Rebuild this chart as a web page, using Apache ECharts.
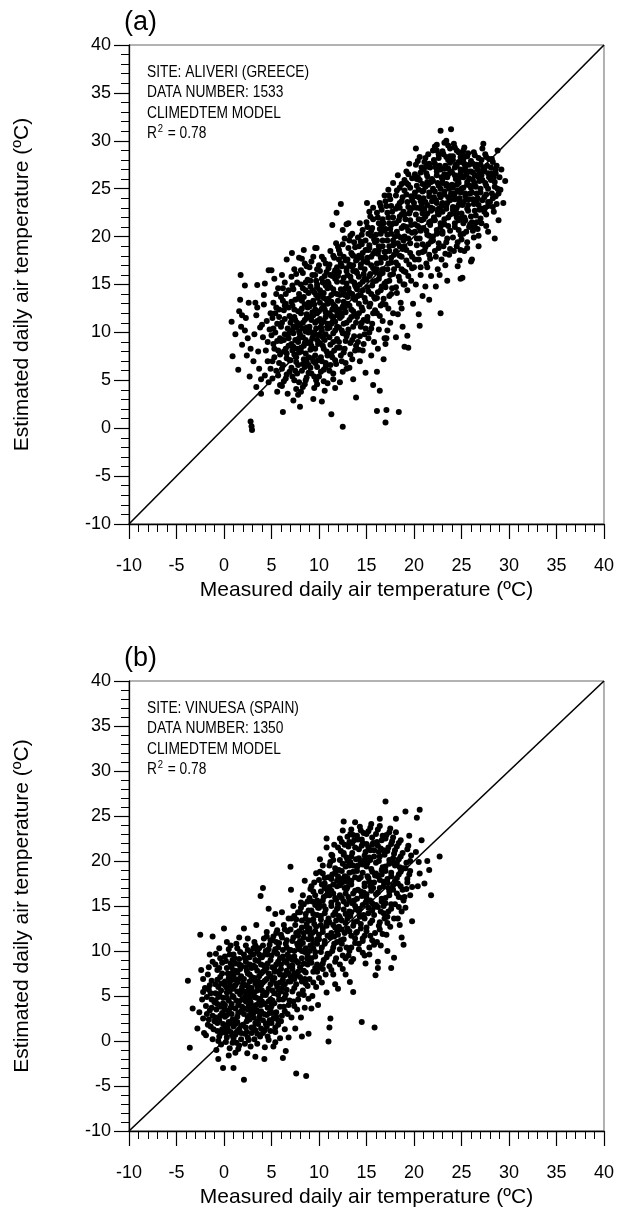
<!DOCTYPE html>
<html>
<head>
<meta charset="utf-8">
<script src="https://cdn.jsdelivr.net/npm/echarts@6/dist/echarts.min.js"></script>
<style>
  html, body { margin: 0; padding: 0; background: #fff; }
  #chart { width: 617px; height: 1209px; }
</style>
</head>
<body>
<div id="chart"></div>
<script>
// panel (a): ALIVERI (GREECE), measured vs estimated (ºC)
const aliveriPts = [
  [0.8,11.1],[0.9,7.5],[1.2,9.8],[1.5,6.1],[1.7,13.4],[1.75,16.0],[1.8,10.6],[1.9,8.7],[1.6,12.2],[1.9,11.8],
  [2.2,14.9],[2.4,7.6],[2.6,13.1],[2.8,0.7],[2.9,0.2],[2.95,-0.2],[2.3,11.5],[2.5,9.4],[2.7,5.4],[2.8,8.3],[2.2,10.2],
  [3.3,13.1],[3.5,14.95],[3.2,9.8],[3.4,11.8],[3.6,8.0],[3.7,6.2],[3.1,7.0],[3.8,10.5],[3.5,12.6],[3.9,5.1],[3.4,4.3],[3.9,3.6],
  [4.3,15.1],[4.7,16.5],[4.2,12.9],[4.5,11.2],[4.1,9.5],[4.8,10.3],[4.4,8.1],[4.6,7.0],[4.9,6.2],[4.3,5.5],[4.7,4.8],[4.2,13.9],[4.9,12.0],[4.6,9.0],[4.0,10.8],
  [5.3,15.6],[5.0,16.5],[5.5,14.0],[5.2,13.1],[5.8,12.4],[5.1,11.5],[5.6,10.9],[5.4,10.0],[5.9,9.4],[5.2,8.8],[5.7,8.1],[5.3,7.4],[5.8,6.8],[5.5,6.0],[5.1,5.2],[5.9,4.5],[5.6,3.8],[5.4,12.0],[5.0,9.7],[5.7,14.6],
  [5.5,12.6],[5.8,11.6],[5.2,10.4],[5.6,9.1],[5.3,8.3],[5.9,7.7],[5.1,7.0],[5.7,5.5],
  [6.1,16.0],[6.6,17.6],[6.2,1.7],[6.4,15.2],[6.8,14.4],[6.0,13.7],[6.5,13.0],[6.3,12.3],[6.9,11.7],[6.1,11.0],[6.7,10.4],[6.4,9.8],[6.0,9.1],[6.8,8.6],[6.3,8.0],[6.6,7.3],[6.2,6.6],[6.9,5.9],[6.5,5.2],[6.1,4.4],[6.7,3.6],[6.4,12.8],[6.9,10.0],[6.2,14.6],[6.6,7.8],[6.8,9.4],
  [6.5,14.0],[6.2,13.3],[6.8,12.6],[6.4,11.4],[6.0,10.6],[6.7,9.7],[6.3,9.2],[6.5,8.3],[6.9,7.1],[6.1,6.2],[6.6,5.6],[6.3,4.9],
  [7.15,18.3],[7.9,17.8],[7.4,16.6],[7.1,15.8],[7.7,15.2],[7.3,14.5],[7.9,14.0],[7.5,13.4],[7.2,12.8],[7.8,12.2],[7.4,11.6],[7.0,11.0],[7.6,10.5],[7.3,9.9],[7.9,9.4],[7.1,8.8],[7.7,8.3],[7.4,7.7],[7.0,7.1],[7.8,6.6],[7.5,6.0],[7.2,5.4],[7.9,4.8],[7.6,4.1],[7.3,2.9],[7.5,11.3],[7.8,9.0],[7.2,10.2],[7.6,7.4],[7.1,13.2],[7.9,7.9],[7.3,8.5],
  [7.6,16.1],[7.2,14.9],[7.8,13.5],[7.4,12.4],[7.1,11.5],[7.7,11.0],[7.3,10.6],[7.9,10.1],[7.5,9.2],[7.2,8.1],[7.6,6.9],[7.1,6.3],[7.7,5.7],[7.4,5.0],[7.8,3.5],
  [8.4,18.6],[8.2,17.7],[8.0,2.25],[8.7,16.9],[8.3,16.2],[8.8,15.5],[8.1,15.0],[8.6,14.4],[8.4,13.7],[8.9,13.1],[8.2,12.5],[8.7,11.9],[8.5,11.3],[8.0,10.7],[8.6,10.1],[8.3,9.5],[8.8,8.9],[8.1,8.4],[8.6,7.8],[8.4,7.2],[8.9,6.6],[8.2,6.0],[8.7,5.3],[8.5,4.6],[8.1,3.8],[8.8,12.6],[8.3,11.0],[8.6,9.2],[8.0,9.8],[8.9,7.4],[8.4,8.6],[8.2,13.3],[8.7,10.5],[8.5,6.4],
  [8.5,17.2],[8.1,16.5],[8.6,15.2],[8.3,14.6],[8.9,14.1],[8.0,13.6],[8.5,12.9],[8.1,12.0],[8.7,11.5],[8.3,10.4],[8.9,10.0],[8.5,8.9],[8.1,8.0],[8.7,7.0],[8.3,6.7],[8.9,5.8],[8.6,5.0],[8.3,4.3],
  [9.75,18.8],[9.6,18.8],[9.4,3.05],[9.2,17.4],[9.8,16.6],[9.3,16.0],[9.7,15.4],[9.1,14.8],[9.5,14.2],[9.9,13.6],[9.2,13.0],[9.6,12.4],[9.4,11.8],[9.8,11.2],[9.0,10.6],[9.5,10.0],[9.3,9.4],[9.9,8.8],[9.1,8.2],[9.6,7.6],[9.4,7.0],[9.8,6.4],[9.2,5.7],[9.7,5.0],[9.5,4.2],[9.3,12.1],[9.7,10.4],[9.1,9.0],[9.9,9.7],[9.4,13.3],[9.6,6.8],[9.2,11.3],[9.8,14.7],
  [9.4,17.9],[9.0,16.8],[9.6,16.0],[9.1,15.4],[9.8,15.0],[9.3,14.4],[9.7,13.9],[9.0,12.7],[9.5,12.9],[9.8,12.0],[9.2,11.7],[9.6,11.0],[9.0,10.2],[9.4,9.7],[9.8,9.2],[9.2,8.6],[9.6,8.3],[9.3,7.3],[9.9,7.1],[9.1,6.3],[9.5,5.4],[9.8,4.6],
  [10.3,17.9],[10.7,17.2],[10.1,16.4],[10.6,15.9],[10.4,15.2],[10.9,14.6],[10.2,14.0],[10.8,13.4],[10.5,12.8],[10.0,12.2],[10.7,11.6],[10.3,11.0],[10.9,10.4],[10.1,9.8],[10.6,9.2],[10.4,8.6],[10.8,8.0],[10.2,7.4],[10.7,6.8],[10.5,6.1],[10.0,5.4],[10.9,4.7],[10.6,3.9],[10.3,2.8],[10.5,13.6],[10.8,11.9],[10.2,10.6],[10.6,12.4],[10.4,9.5],[10.9,15.3],[10.1,13.1],
  [10.5,17.6],[10.0,17.0],[10.8,16.3],[10.3,15.6],[10.7,14.9],[10.1,14.4],[10.5,14.1],[10.9,13.0],[10.3,12.5],[10.7,12.1],[10.1,11.4],[10.5,11.2],[10.9,10.9],[10.3,10.2],[10.7,9.8],[10.1,8.9],[10.5,8.3],[10.9,7.6],[10.3,7.0],[10.7,6.4],[10.2,5.9],[10.5,4.9],
  [11.3,1.45],[11.85,22.5],[11.4,21.2],[11.8,19.3],[11.2,18.5],[11.6,17.8],[11.1,17.1],[11.7,16.5],[11.4,15.9],[11.9,15.3],[11.2,14.7],[11.6,14.1],[11.0,13.5],[11.5,12.9],[11.8,12.3],[11.3,11.7],[11.7,11.1],[11.1,10.5],[11.5,9.9],[11.9,9.3],[11.2,8.7],[11.6,8.1],[11.4,7.4],[11.8,6.7],[11.1,6.0],[11.5,5.1],[11.7,4.2],[11.3,13.9],[11.6,16.2],[11.9,10.6],[11.4,12.4],
  [11.5,18.0],[11.0,16.7],[11.9,16.8],[11.2,16.0],[11.7,15.6],[11.0,15.1],[11.5,14.5],[11.9,14.0],[11.3,13.2],[11.7,12.7],[11.1,12.0],[11.5,11.4],[11.9,11.8],[11.3,10.9],[11.7,10.2],[11.1,9.5],[11.5,9.0],[11.9,8.4],[11.3,7.8],[11.7,7.1],[11.2,6.6],[11.5,5.7],
  [12.3,23.4],[12.9,21.3],[12.5,20.7],[12.0,18.95],[12.5,0.15],[12.7,19.8],[12.2,18.2],[12.8,17.5],[12.4,16.9],[12.1,16.3],[12.6,15.7],[12.9,15.1],[12.3,14.5],[12.7,13.9],[12.0,13.3],[12.5,12.7],[12.8,12.1],[12.2,11.5],[12.6,10.9],[12.4,10.2],[12.9,9.6],[12.1,9.0],[12.7,8.3],[12.3,7.6],[12.8,6.8],[12.5,5.9],[12.2,4.8],[12.6,14.2],[12.9,16.4],[12.4,12.0],[12.1,17.6],
  [12.5,19.2],[12.1,18.6],[12.6,17.9],[12.3,17.2],[12.9,16.7],[12.0,15.9],[12.5,15.3],[12.8,14.6],[12.2,13.9],[12.6,13.2],[12.1,12.4],[12.7,12.5],[12.4,11.7],[12.9,11.0],[12.1,10.5],[12.5,9.9],[12.8,9.1],[12.2,8.4],[12.6,7.9],[12.4,7.0],[12.9,6.2],
  [13.1,21.4],[13.9,3.2],[13.5,20.3],[13.2,19.6],[13.8,18.9],[13.4,18.3],[13.0,17.6],[13.6,17.0],[13.9,16.4],[13.3,15.8],[13.7,15.2],[13.1,14.6],[13.5,14.0],[13.8,13.4],[13.2,12.8],[13.6,12.2],[13.4,11.6],[13.9,11.0],[13.1,10.3],[13.7,9.6],[13.3,8.9],[13.8,8.1],[13.5,7.2],[13.2,6.3],[13.6,5.1],[13.4,16.9],[13.9,14.7],[13.0,13.7],[13.6,18.0],
  [13.3,20.1],[13.7,19.4],[13.1,18.8],[13.5,18.1],[13.9,17.5],[13.2,17.1],[13.6,16.4],[13.0,16.0],[13.4,15.4],[13.8,14.9],[13.2,14.2],[13.6,13.6],[13.0,13.0],[13.4,12.4],[13.8,11.9],[13.2,11.3],[13.6,10.6],[13.0,9.9],[13.5,9.2],[13.9,8.6],[13.3,7.7],
  [14.3,21.4],[14.6,20.7],[14.1,19.9],[14.5,19.2],[14.9,18.6],[14.2,18.0],[14.7,17.4],[14.4,16.8],[14.0,16.2],[14.8,15.6],[14.3,15.0],[14.6,14.4],[14.1,13.8],[14.9,13.2],[14.5,12.6],[14.2,12.0],[14.7,11.3],[14.4,10.6],[14.8,9.8],[14.1,9.0],[14.6,8.1],[14.3,7.0],[14.9,5.8],[14.5,17.8],[14.0,14.8],[14.7,16.1],[14.4,19.5],
  [14.5,20.2],[14.9,19.6],[14.2,19.0],[14.6,18.3],[14.0,17.6],[14.4,17.1],[14.8,16.6],[14.2,15.8],[14.6,15.3],[14.0,14.5],[14.4,13.9],[14.8,13.6],[14.2,13.0],[14.6,12.3],[14.0,11.6],[14.5,11.0],[14.9,10.4],[14.3,9.6],[14.7,8.8],[14.2,8.2],
  [15.05,23.5],[15.7,23.0],[15.4,22.1],[15.0,21.5],[15.6,20.9],[15.2,20.3],[15.8,19.7],[15.3,19.1],[15.9,18.5],[15.5,17.9],[15.1,17.3],[15.7,16.7],[15.4,16.1],[15.0,15.5],[15.6,14.9],[15.2,14.3],[15.8,13.7],[15.4,13.0],[15.9,12.3],[15.1,11.6],[15.6,10.9],[15.3,10.0],[15.8,9.0],[15.7,4.5],[15.5,7.6],[15.2,18.6],[15.9,16.3],[15.5,20.6],
  [15.3,22.6],[15.7,21.8],[15.1,21.0],[15.5,20.1],[15.9,19.4],[15.3,18.8],[15.7,18.2],[15.1,17.8],[15.5,17.0],[15.9,16.6],[15.3,15.9],[15.7,15.3],[15.1,14.7],[15.5,14.0],[15.9,13.5],[15.3,12.7],[15.7,12.0],[15.1,11.2],[15.5,10.4],[15.2,9.4],
  [16.4,23.5],[16.1,5.9],[16.4,3.9],[16.1,1.8],[16.8,7.2],[16.2,8.3],[16.9,24.3],[16.6,22.8],[16.2,22.0],[16.8,21.4],[16.4,20.8],[16.0,20.2],[16.7,19.6],[16.3,19.0],[16.9,18.4],[16.5,17.8],[16.1,17.2],[16.7,16.6],[16.4,16.0],[16.0,15.4],[16.6,14.8],[16.2,14.2],[16.8,13.5],[16.5,12.8],[16.1,12.0],[16.7,11.2],[16.3,10.3],[16.9,9.4],[16.6,21.0],[16.2,18.2],
  [16.5,23.2],[16.1,22.5],[16.7,21.8],[16.3,21.4],[16.9,20.6],[16.5,20.3],[16.1,19.6],[16.7,19.0],[16.3,18.6],[16.9,17.8],[16.5,17.3],[16.1,16.6],[16.7,16.2],[16.3,15.6],[16.9,15.1],[16.5,14.4],[16.1,13.6],[16.7,13.0],[16.4,11.7],
  [17.3,24.9],[17.1,1.9],[17.0,0.6],[17.0,8.8],[17.1,9.4],[17.8,25.6],[17.5,23.9],[17.1,23.2],[17.7,22.6],[17.3,22.0],[17.9,21.4],[17.5,20.8],[17.2,20.2],[17.8,19.6],[17.4,19.0],[17.0,18.4],[17.6,17.8],[17.3,17.2],[17.9,16.6],[17.5,16.0],[17.1,15.3],[17.7,14.6],[17.4,13.8],[17.0,12.9],[17.8,12.0],[17.5,11.0],[17.2,10.2],[17.6,21.2],[17.9,18.1],
  [17.4,24.3],[17.0,23.7],[17.6,23.2],[17.2,22.5],[17.8,22.0],[17.4,21.4],[17.0,20.8],[17.6,20.3],[17.2,19.6],[17.8,19.1],[17.4,18.5],[17.0,17.8],[17.6,17.3],[17.2,16.6],[17.8,16.1],[17.4,15.4],[17.0,14.7],[17.6,14.0],[17.3,12.5],
  [18.4,1.7],[18.1,9.5],[18.3,26.4],[18.7,25.5],[18.2,24.8],[18.8,24.1],[18.5,23.5],[18.1,22.9],[18.7,22.3],[18.4,21.7],[18.9,21.1],[18.2,20.5],[18.6,19.9],[18.3,19.3],[18.8,18.7],[18.5,18.0],[18.1,17.3],[18.7,16.6],[18.4,15.8],[18.9,15.0],[18.2,14.1],[18.6,13.1],[18.3,11.9],[18.8,10.6],[18.5,23.0],[18.0,20.0],
  [18.5,25.1],[18.1,24.3],[18.7,23.7],[18.3,23.2],[18.9,22.6],[18.5,22.1],[18.1,21.4],[18.7,20.9],[18.3,20.1],[18.9,19.6],[18.5,19.0],[18.1,18.5],[18.7,17.9],[18.3,17.0],[18.9,16.4],[18.5,15.4],[18.1,14.7],[18.7,12.5],
  [19.0,8.5],[19.4,8.4],[19.3,9.65],[19.9,13.0],[19.5,27.6],[19.2,26.8],[19.8,26.1],[19.4,25.4],[19.0,24.8],[19.7,24.2],[19.3,23.6],[19.9,23.0],[19.5,22.4],[19.1,21.8],[19.7,21.2],[19.4,20.6],[19.0,20.0],[19.6,19.3],[19.2,18.6],[19.8,17.9],[19.5,17.1],[19.1,16.3],[19.7,15.4],[19.3,14.4],[19.6,22.7],[19.2,25.6],
  [19.4,26.5],[19.0,25.9],[19.6,25.1],[19.2,24.4],[19.8,23.8],[19.4,23.1],[19.0,22.3],[19.6,21.7],[19.2,21.0],[19.8,20.4],[19.4,19.8],[19.0,19.0],[19.6,18.3],[19.2,17.5],[19.8,16.7],[19.4,15.9],[19.0,15.0],
  [20.2,29.2],[20.6,10.7],[20.5,11.9],[20.9,13.8],[20.4,27.9],[20.8,27.2],[20.1,26.5],[20.6,25.9],[20.3,25.3],[20.9,24.7],[20.5,24.1],[20.0,23.5],[20.7,22.9],[20.2,22.3],[20.8,21.7],[20.4,21.1],[20.1,20.5],[20.6,19.8],[20.3,19.1],[20.9,18.4],[20.5,17.6],[20.0,16.8],[20.7,16.0],[20.2,15.0],[20.8,23.3],[20.4,26.2],[20.6,20.9],[20.1,24.6],
  [20.6,28.3],[20.2,27.5],[20.7,26.7],[20.3,26.0],[20.9,25.5],[20.5,24.9],[20.1,24.2],[20.7,23.7],[20.3,23.0],[20.9,22.4],[20.5,21.8],[20.1,21.3],[20.7,20.6],[20.3,19.8],[20.9,19.2],[20.5,18.3],[20.1,17.6],[20.7,16.8],
  [21.5,28.6],[21.1,27.8],[21.7,27.2],[21.3,26.6],[21.9,26.0],[21.5,25.4],[21.0,24.8],[21.6,24.2],[21.2,23.6],[21.8,23.0],[21.4,22.4],[21.0,21.8],[21.7,21.2],[21.3,20.6],[21.9,19.9],[21.5,19.2],[21.1,18.5],[21.7,17.7],[21.4,16.8],[21.8,15.9],[21.2,14.8],[21.6,13.4],[21.4,25.7],[21.9,23.7],[21.1,22.9],[21.6,20.1],[21.3,27.3],[21.8,21.6],
  [21.2,28.2],[21.6,27.6],[21.0,27.0],[21.4,26.3],[21.8,25.7],[21.2,25.2],[21.6,24.6],[21.0,24.0],[21.4,23.3],[21.8,22.7],[21.2,22.1],[21.6,21.5],[21.0,20.9],[21.4,20.2],[21.8,19.5],[21.2,18.9],[21.6,18.1],[21.3,17.2],
  [22.8,31.05],[22.3,14.8],[22.8,12.0],[22.2,29.4],[22.6,28.6],[22.1,28.0],[22.7,27.4],[22.4,26.8],[22.9,26.2],[22.5,25.6],[22.0,25.0],[22.7,24.4],[22.3,23.8],[22.9,23.2],[22.5,22.6],[22.1,22.0],[22.8,21.4],[22.4,20.7],[22.0,20.0],[22.6,19.3],[22.2,18.5],[22.9,17.6],[22.5,16.6],[22.3,27.2],[22.8,25.0],[22.1,24.1],[22.6,22.9],[22.4,29.0],[22.9,20.4],
  [22.4,29.6],[22.0,29.0],[22.6,28.2],[22.2,27.6],[22.8,27.0],[22.4,26.4],[22.0,25.8],[22.6,25.3],[22.2,24.7],[22.8,24.1],[22.4,23.5],[22.0,22.9],[22.6,22.3],[22.2,21.7],[22.8,21.0],[22.4,20.3],[22.0,19.6],[22.6,18.8],[22.3,17.9],[22.7,16.0],
  [23.9,31.2],[23.5,15.4],[23.4,30.0],[23.8,29.2],[23.1,28.6],[23.6,28.0],[23.3,27.4],[23.9,26.8],[23.5,26.2],[23.0,25.6],[23.7,25.0],[23.2,24.4],[23.8,23.8],[23.4,23.2],[23.0,22.6],[23.6,22.0],[23.2,21.3],[23.8,20.6],[23.5,19.8],[23.1,19.0],[23.7,18.1],[23.3,17.0],[23.6,27.1],[23.9,24.5],[23.2,26.5],[23.5,23.5],[23.8,28.4],[23.0,20.3],[23.4,25.3],
  [23.2,29.8],[23.6,29.5],[23.0,28.9],[23.4,28.3],[23.8,27.7],[23.2,27.1],[23.6,26.5],[23.0,26.0],[23.4,25.5],[23.8,25.3],[23.2,24.7],[23.6,24.1],[23.0,23.5],[23.4,22.9],[23.8,22.3],[23.2,21.8],[23.6,21.1],[23.0,20.5],[23.4,19.4],[23.8,18.7],[23.3,18.2],
  [24.2,29.7],[24.6,16.9],[24.9,15.6],[24.5,29.0],[24.1,28.4],[24.7,27.8],[24.3,27.2],[24.9,26.6],[24.4,26.0],[24.0,25.4],[24.6,24.8],[24.2,24.2],[24.8,23.6],[24.5,23.0],[24.1,22.4],[24.7,21.7],[24.3,21.0],[24.9,20.2],[24.6,19.4],[24.2,18.5],[24.8,17.5],[24.4,27.5],[24.0,26.7],[24.7,25.6],[24.3,24.5],[24.9,28.3],[24.5,22.0],[24.1,23.1],[24.6,26.3],[24.8,24.0],
  [24.3,29.3],[24.7,28.8],[24.1,28.0],[24.5,27.4],[24.9,27.0],[24.3,26.4],[24.7,26.0],[24.1,25.1],[24.5,25.4],[24.9,24.6],[24.3,23.9],[24.7,23.3],[24.1,22.8],[24.5,22.5],[24.9,21.9],[24.3,21.4],[24.7,20.7],[24.1,19.9],[24.5,19.0],[24.9,18.6],
  [25.1,15.7],[25.3,29.3],[25.7,28.7],[25.2,28.1],[25.8,27.5],[25.4,26.9],[25.0,26.3],[25.6,25.7],[25.2,25.1],[25.9,24.5],[25.5,23.9],[25.1,23.3],[25.7,22.7],[25.3,22.0],[25.9,21.3],[25.5,20.5],[25.0,19.7],[25.6,18.8],[25.3,27.6],[25.8,26.1],[25.4,24.2],[25.1,28.6],[25.7,23.3],[25.5,26.5],[25.2,21.4],[25.9,25.3],[26.0,17.4],
  [25.2,29.0],[25.6,28.4],[25.0,27.8],[25.4,27.3],[25.8,26.8],[25.2,26.2],[25.6,25.4],[25.0,25.0],[25.4,24.5],[25.8,23.9],[25.2,23.6],[25.6,22.9],[25.0,22.4],[25.4,21.7],[25.8,21.0],[25.2,20.3],[25.6,19.4],[25.3,18.5],
  [26.1,17.6],[26.3,28.8],[26.8,28.2],[26.2,27.6],[26.7,27.0],[26.4,26.4],[26.9,25.8],[26.5,25.2],[26.1,24.6],[26.7,24.0],[26.3,23.4],[26.9,22.8],[26.5,22.2],[26.1,21.5],[26.7,20.8],[26.3,19.9],[26.8,19.0],[26.5,27.3],[26.2,25.9],[26.6,23.7],[26.9,26.6],[26.4,21.0],[26.0,26.8],
  [26.4,28.5],[26.0,27.9],[26.6,27.5],[26.2,26.7],[26.8,26.2],[26.4,25.6],[26.0,25.1],[26.6,24.5],[26.2,23.9],[26.8,23.3],[26.4,22.7],[26.0,22.1],[26.6,21.5],[26.2,20.6],[26.8,20.1],
  [27.3,29.7],[27.8,20.5],[27.5,28.6],[27.1,28.0],[27.7,27.4],[27.3,26.8],[27.9,26.2],[27.5,25.6],[27.0,25.0],[27.6,24.4],[27.2,23.8],[27.8,23.2],[27.4,22.6],[27.0,21.9],[27.6,21.1],[27.3,27.2],[27.8,25.0],[27.1,26.4],[27.5,23.0],[27.9,28.1],
  [27.2,29.2],[27.6,28.3],[27.0,27.5],[27.4,27.0],[27.8,26.6],[27.2,25.9],[27.6,25.3],[27.0,24.6],[27.4,24.1],[27.8,23.6],[27.2,22.9],[27.6,22.3],[27.1,21.4],
  [28.8,29.0],[28.7,27.4],[28.9,24.5],[28.4,22.6],[28.9,21.7],[28.5,19.8],[28.2,28.1],[28.6,26.6],[28.1,25.9],[28.5,25.2],[28.3,24.0],[28.7,23.4],[28.1,27.2],[28.4,26.2],[28.0,23.6],
  [28.3,27.8],[28.6,27.0],[28.2,26.6],[28.5,25.7],[28.8,25.0],[28.2,24.5],[28.6,24.2],[28.3,23.1],
  [29.6,25.8],[29.2,27.0],[29.1,24.9],[29.4,23.5],[29.0,26.2]
];

// panel (b): VINUESA (SPAIN)
const vinuesaPts = [
  [-3.8,6.7],[-3.6,-0.75],[-3.3,3.6],
  [-2.5,11.8],[-2.2,6.9],[-2.2,5.45],[-2.3,4.6],[-2.2,2.5],[-2.6,3.2],[-2.8,1.4],[-2.4,7.9],[-2.1,0.9],
  [-2.0,5.9],[-1.6,5.7],[-1.3,4.6],[-1.9,3.9],[-1.5,3.4],[-1.2,2.8],[-1.7,1.8],[-1.4,1.6],[-1.0,2.2],[-1.3,6.7],[-1.6,8.2],
  [-1.2,11.6],[-1.2,8.8],[-1.9,0.65],[-1.5,6.2],[-1.8,4.9],[-1.3,3.7],[-1.6,2.4],[-1.1,1.3],[-1.4,5.3],[-1.7,7.4],[-1.2,0.2],[-1.5,9.6],[-1.0,4.3],[-1.8,3.0],
  [-0.85,9.7],[-0.6,-2.0],[-0.1,-3.0],[-0.5,10.3],[-0.2,8.7],[-0.7,7.9],[-0.4,7.1],[-0.9,6.3],[-0.3,5.6],[-0.6,4.9],[-0.1,4.2],[-0.8,3.5],[-0.4,2.8],[-0.7,2.0],[-0.2,1.3],[-0.5,0.5],[-0.3,-0.4],[-0.8,-1.0],[-0.6,6.0],[-0.2,3.1],[-0.9,4.5],[-0.4,9.2],[0.0,12.5],
  [-0.9,8.5],[-0.5,8.1],[-0.2,7.5],[-0.7,6.8],[-0.3,6.4],[-0.9,5.3],[-0.5,5.2],[-0.1,4.8],[-0.7,4.1],[-0.3,3.8],[-0.9,2.6],[-0.5,2.3],[-0.1,1.9],[-0.7,1.1],[-0.3,0.9],[-0.6,0.0],
  [0.7,10.6],[1.0,-3.0],[0.3,11.0],[0.6,9.6],[0.2,8.9],[0.8,8.2],[0.4,7.5],[0.9,6.8],[0.1,6.2],[0.6,5.5],[0.3,4.8],[0.8,4.1],[0.5,3.4],[0.1,2.7],[0.7,2.0],[0.4,1.3],[0.9,0.6],[0.2,-0.1],[0.6,-0.8],[0.5,-1.6],[0.3,5.9],[0.8,3.0],[0.1,4.0],[0.7,7.2],[0.4,1.8],[0.9,9.0],[0.2,0.9],[0.6,6.5],
  [0.5,10.2],[0.1,9.4],[0.7,8.6],[0.3,8.1],[0.9,7.6],[0.5,7.0],[0.1,6.6],[0.7,6.1],[0.3,5.4],[0.9,5.0],[0.5,4.5],[0.1,3.5],[0.7,3.7],[0.3,2.9],[0.9,2.4],[0.5,2.1],[0.1,1.4],[0.7,1.0],[0.3,0.4],[0.9,-0.2],
  [1.3,10.8],[1.7,9.9],[1.1,9.2],[1.6,8.5],[1.2,7.8],[1.8,7.2],[1.4,6.5],[1.0,5.8],[1.7,5.2],[1.3,4.5],[1.9,3.8],[1.5,3.1],[1.1,2.4],[1.8,1.7],[1.4,1.0],[1.0,0.3],[1.6,-0.5],[1.2,-1.3],[1.9,6.0],[1.5,4.0],[1.2,1.9],[1.7,8.0],[1.4,2.7],[1.8,0.2],[1.1,6.9],[1.6,11.5],[1.3,-0.2],[1.9,4.6],
  [1.4,10.3],[1.0,9.6],[1.6,9.1],[1.2,8.6],[1.8,8.4],[1.4,7.6],[1.0,7.2],[1.6,6.9],[1.2,6.2],[1.8,5.6],[1.4,5.5],[1.0,4.9],[1.6,4.4],[1.2,3.6],[1.8,3.3],[1.4,2.1],[1.0,1.6],[1.6,1.3],[1.2,0.7],[1.8,0.9],[1.5,-0.9],
  [2.1,12.5],[2.1,-4.3],[2.45,-1.35],[2.5,11.4],[2.3,10.6],[2.8,9.9],[2.2,9.2],[2.7,8.5],[2.4,7.8],[2.9,7.1],[2.0,6.4],[2.6,5.7],[2.3,5.0],[2.8,4.3],[2.1,3.6],[2.7,2.9],[2.4,2.2],[2.9,1.5],[2.2,0.8],[2.6,0.1],[2.8,-0.6],[2.5,6.1],[2.1,4.7],[2.9,3.3],[2.4,1.0],[2.7,7.4],[2.3,8.8],[2.6,4.0],[2.0,1.8],[2.8,5.4],[2.5,2.6],
  [2.5,10.1],[2.1,9.6],[2.7,9.3],[2.3,8.2],[2.9,8.1],[2.5,7.5],[2.1,6.9],[2.7,6.6],[2.3,6.2],[2.9,5.9],[2.5,5.2],[2.1,5.5],[2.7,4.8],[2.3,4.4],[2.9,3.9],[2.5,3.5],[2.1,3.0],[2.7,2.4],[2.3,1.5],[2.9,0.9],[2.5,0.4],[2.2,-0.3],
  [3.3,-1.75],[3.85,16.1],[3.4,12.9],[3.2,11.0],[3.7,10.3],[3.1,9.6],[3.6,8.9],[3.3,8.2],[3.9,7.5],[3.0,6.8],[3.5,6.1],[3.2,5.4],[3.8,4.7],[3.4,4.0],[3.9,3.3],[3.1,2.6],[3.6,1.9],[3.3,1.2],[3.8,0.5],[3.5,-0.3],[3.2,7.0],[3.7,5.8],[3.0,3.9],[3.5,2.2],[3.9,9.3],[3.4,4.8],[3.1,1.5],[3.6,6.6],[3.8,3.0],[3.3,10.6],
  [3.5,10.0],[3.1,10.3],[3.7,9.6],[3.3,9.0],[3.9,8.5],[3.5,7.8],[3.1,8.4],[3.7,7.2],[3.3,6.4],[3.9,6.2],[3.5,5.6],[3.1,4.9],[3.7,4.3],[3.3,3.5],[3.9,4.0],[3.5,3.3],[3.1,3.1],[3.7,2.6],[3.3,2.0],[3.9,1.4],[3.5,0.8],[3.2,0.2],
  [4.1,17.0],[4.7,14.7],[4.25,-2.0],[4.5,12.1],[4.2,11.4],[4.8,10.7],[4.4,10.0],[4.0,9.3],[4.6,8.6],[4.3,7.9],[4.9,7.2],[4.1,6.5],[4.7,5.8],[4.4,5.1],[4.0,4.4],[4.6,3.7],[4.2,3.0],[4.8,2.3],[4.5,1.6],[4.1,0.9],[4.7,0.1],[4.3,-0.7],[4.9,4.6],[4.5,6.9],[4.2,8.4],[4.8,3.1],[4.4,1.9],[4.6,9.6],[4.0,5.6],[4.9,11.2],
  [4.5,11.6],[4.1,10.6],[4.7,10.2],[4.3,9.6],[4.9,9.0],[4.5,8.1],[4.1,7.7],[4.7,7.5],[4.3,6.7],[4.9,6.3],[4.5,5.4],[4.1,5.1],[4.7,4.4],[4.3,4.1],[4.9,3.6],[4.5,2.9],[4.1,2.3],[4.7,2.0],[4.3,1.2],[4.9,1.1],[4.6,0.5],
  [5.4,14.1],[5.4,-0.15],[5.1,13.0],[5.6,12.3],[5.2,11.6],[5.8,10.9],[5.4,10.2],[5.0,9.5],[5.7,8.8],[5.3,8.1],[5.9,7.4],[5.1,6.7],[5.6,6.0],[5.3,5.3],[5.8,4.6],[5.0,3.9],[5.5,3.2],[5.2,2.5],[5.7,1.8],[5.4,1.0],[5.9,0.3],[5.3,7.7],[5.8,5.7],[5.1,4.5],[5.6,9.7],[5.0,2.0],[5.5,11.0],[5.2,-0.6],
  [5.5,12.0],[5.1,11.2],[5.7,10.4],[5.3,9.9],[5.9,9.2],[5.5,8.5],[5.1,8.2],[5.7,7.7],[5.3,7.0],[5.9,6.5],[5.5,6.4],[5.1,5.6],[5.7,5.1],[5.3,4.2],[5.9,3.8],[5.5,2.7],[5.1,3.1],[5.7,2.3],[5.4,1.5],
  [6.2,-1.9],[6.5,-1.1],[6.8,13.6],[6.3,12.9],[6.7,12.2],[6.1,11.5],[6.5,10.8],[6.9,10.1],[6.2,9.4],[6.6,8.7],[6.0,8.0],[6.4,7.3],[6.8,6.6],[6.1,5.9],[6.5,5.2],[6.9,4.5],[6.3,3.8],[6.7,3.0],[6.0,2.2],[6.4,1.3],[6.8,0.4],[6.6,11.2],[6.2,6.8],[6.9,8.3],[6.4,4.8],[6.1,14.3],[6.7,9.6],
  [6.4,12.4],[6.0,11.8],[6.6,10.4],[6.2,10.1],[6.8,9.2],[6.4,8.9],[6.0,8.5],[6.6,7.8],[6.2,7.3],[6.8,7.5],[6.4,6.3],[6.0,5.5],[6.6,5.7],[6.2,4.6],[6.8,4.0],[6.4,3.3],[6.1,2.8],
  [7.0,19.35],[7.05,16.8],[7.6,-3.6],[7.3,15.0],[7.8,14.3],[7.1,13.6],[7.5,12.9],[7.9,12.2],[7.3,11.5],[7.7,10.8],[7.0,10.1],[7.4,9.4],[7.8,8.7],[7.2,8.0],[7.6,7.3],[7.0,6.6],[7.4,5.9],[7.9,5.2],[7.3,4.4],[7.7,3.5],[7.1,2.6],[7.5,1.4],[7.8,11.7],[7.2,9.0],[7.6,13.5],[7.4,6.9],[7.9,10.2],
  [7.4,13.9],[7.0,12.4],[7.6,12.0],[7.2,11.1],[7.8,10.5],[7.4,10.0],[7.0,9.3],[7.6,8.9],[7.2,8.4],[7.8,7.7],[7.4,7.5],[7.0,7.2],[7.6,6.3],[7.2,5.5],[7.8,4.6],[7.4,3.9],
  [8.65,-3.9],[8.2,0.5],[8.9,0.8],[8.5,17.8],[8.3,16.2],[8.8,15.5],[8.1,14.8],[8.6,14.1],[8.2,13.4],[8.7,12.7],[8.4,12.0],[8.9,11.3],[8.0,10.6],[8.5,9.9],[8.2,9.2],[8.8,8.5],[8.4,7.8],[8.0,7.1],[8.6,6.4],[8.3,5.6],[8.9,4.7],[8.5,3.7],[8.1,2.6],[8.7,13.0],[8.3,10.9],[8.8,9.5],[8.1,15.4],[8.5,6.9],[8.9,14.5],
  [8.4,15.2],[8.0,14.3],[8.6,13.6],[8.2,12.6],[8.8,12.2],[8.4,11.5],[8.0,11.1],[8.6,10.3],[8.2,10.0],[8.8,9.1],[8.4,8.6],[8.0,8.2],[8.6,7.6],[8.2,6.6],[8.8,6.1],[8.4,5.1],
  [9.7,18.65],[9.2,3.6],[9.5,17.6],[9.1,16.9],[9.6,16.2],[9.3,15.5],[9.9,14.8],[9.4,14.1],[9.0,13.4],[9.7,12.7],[9.3,12.0],[9.8,11.3],[9.1,10.6],[9.6,9.9],[9.2,9.2],[9.8,8.5],[9.4,7.7],[9.0,6.9],[9.7,6.0],[9.3,5.0],[9.9,4.0],[9.5,13.0],[9.1,11.8],[9.8,15.6],[9.4,10.3],[9.6,8.1],[9.2,17.2],
  [9.4,16.6],[9.0,15.9],[9.6,15.1],[9.2,14.5],[9.8,14.0],[9.4,13.5],[9.0,12.5],[9.6,12.2],[9.2,11.4],[9.8,10.8],[9.4,10.9],[9.0,10.0],[9.6,9.4],[9.2,8.7],[9.8,7.7],[9.4,6.5],
  [10.8,22.5],[10.8,21.5],[10.4,19.5],[10.1,18.8],[10.6,18.1],[10.3,17.4],[10.9,16.7],[10.5,16.0],[10.0,15.3],[10.7,14.6],[10.2,13.9],[10.8,13.2],[10.4,12.5],[10.0,11.8],[10.6,11.1],[10.3,10.4],[10.9,9.7],[10.5,9.0],[10.1,8.2],[10.7,7.4],[10.3,6.5],[10.8,5.4],[10.5,15.0],[10.2,12.9],[10.9,11.7],[10.6,17.0],[10.4,8.6],[10.1,20.2],
  [10.4,18.6],[10.0,17.9],[10.6,17.5],[10.2,16.6],[10.8,16.2],[10.4,15.6],[10.0,14.8],[10.6,14.2],[10.2,13.5],[10.8,12.8],[10.4,12.1],[10.0,11.3],[10.6,10.8],[10.2,9.9],[10.8,9.3],[10.4,8.0],[10.0,7.0],
  [11.0,-0.05],[11.1,1.5],[11.2,2.5],[11.3,20.7],[11.6,21.8],[11.2,19.9],[11.7,19.2],[11.4,18.5],[11.9,17.8],[11.1,17.1],[11.5,16.4],[11.8,15.7],[11.3,15.0],[11.7,14.3],[11.0,13.6],[11.5,12.9],[11.9,12.2],[11.2,11.5],[11.6,10.8],[11.4,10.0],[11.8,9.2],[11.1,8.3],[11.5,7.4],[11.7,6.3],[11.3,16.7],[11.8,13.4],[11.0,18.2],[11.6,11.6],[11.4,20.6],
  [11.5,20.1],[11.1,19.5],[11.7,18.7],[11.3,18.0],[11.9,17.2],[11.5,17.4],[11.1,16.2],[11.7,15.9],[11.3,15.4],[11.9,14.7],[11.5,14.0],[11.1,13.2],[11.7,12.6],[11.3,12.0],[11.9,11.0],[11.5,10.4],[11.1,9.7],[11.7,8.8],[11.3,7.9],
  [12.0,5.8],[12.6,24.4],[12.5,23.4],[12.2,22.5],[12.7,21.8],[12.3,21.1],[12.9,20.4],[12.5,19.7],[12.1,19.0],[12.7,18.3],[12.4,17.6],[12.9,16.9],[12.2,16.2],[12.6,15.5],[12.0,14.8],[12.8,14.1],[12.4,13.4],[12.1,12.7],[12.7,12.0],[12.3,11.2],[12.9,10.4],[12.5,9.5],[12.2,8.5],[12.8,7.4],[12.6,20.9],[12.3,18.0],[12.9,15.2],[12.1,13.9],[12.7,17.0],[12.4,10.8],
  [12.4,22.1],[12.0,21.5],[12.6,20.7],[12.2,20.1],[12.8,19.4],[12.4,18.9],[12.0,18.3],[12.6,17.7],[12.2,17.3],[12.8,16.4],[12.4,15.9],[12.0,15.2],[12.6,14.6],[12.2,13.7],[12.8,13.1],[12.4,12.4],[12.0,11.8],[12.6,11.3],[12.2,10.2],[12.8,9.2],[12.5,8.0],
  [13.6,5.45],[13.25,6.55],[13.4,8.8],[13.8,24.3],[13.3,23.0],[13.7,22.3],[13.1,21.6],[13.5,20.9],[13.9,20.2],[13.2,19.5],[13.6,18.8],[13.0,18.1],[13.4,17.4],[13.8,16.7],[13.1,16.0],[13.5,15.3],[13.9,14.6],[13.3,13.9],[13.7,13.2],[13.0,12.5],[13.4,11.7],[13.8,10.9],[13.2,10.0],[13.6,9.1],[13.5,22.0],[13.1,17.7],[13.7,15.6],[13.3,19.9],[13.9,12.0],[13.2,14.4],
  [13.4,23.5],[13.0,22.7],[13.6,22.9],[13.2,22.1],[13.8,21.5],[13.4,20.5],[13.0,20.0],[13.6,19.5],[13.2,18.7],[13.8,18.2],[13.4,17.8],[13.0,17.1],[13.6,16.4],[13.2,15.6],[13.8,15.0],[13.4,14.3],[13.0,13.6],[13.6,12.8],[13.2,12.2],[13.8,11.4],[13.4,10.4],[13.1,9.5],
  [14.5,2.1],[14.3,23.8],[14.7,23.1],[14.1,22.4],[14.5,21.7],[14.9,21.0],[14.2,20.3],[14.6,19.6],[14.0,18.9],[14.4,18.2],[14.8,17.5],[14.1,16.8],[14.5,16.1],[14.9,15.4],[14.3,14.7],[14.7,14.0],[14.0,13.3],[14.4,12.5],[14.8,11.7],[14.2,10.8],[14.6,9.8],[14.9,8.6],[14.5,22.4],[14.1,19.5],[14.7,16.5],[14.3,13.8],[14.8,20.1],[14.6,11.1],
  [14.4,23.4],[14.0,22.8],[14.6,22.0],[14.2,21.3],[14.8,20.6],[14.4,19.9],[14.0,19.3],[14.6,18.7],[14.2,18.0],[14.8,17.2],[14.4,16.6],[14.0,15.8],[14.6,15.1],[14.2,14.4],[14.8,13.6],[14.4,13.0],[14.0,12.1],[14.6,11.4],[14.2,10.2],[14.8,9.5],
  [15.5,24.1],[15.85,1.5],[15.95,7.3],[15.2,23.3],[15.6,22.6],[15.0,21.9],[15.4,21.2],[15.8,20.5],[15.1,19.8],[15.5,19.1],[15.9,18.4],[15.3,17.7],[15.7,17.0],[15.0,16.3],[15.4,15.6],[15.8,14.9],[15.2,14.2],[15.6,13.4],[15.0,12.6],[15.4,11.7],[15.8,10.7],[15.3,9.6],[15.7,22.0],[15.1,18.3],[15.5,16.7],[15.9,12.0],[15.3,20.4],[15.6,14.5],
  [15.4,23.7],[15.0,23.0],[15.6,21.8],[15.2,21.5],[15.8,21.2],[15.4,20.1],[15.0,19.4],[15.6,18.8],[15.2,18.1],[15.8,17.6],[15.4,17.2],[15.0,15.9],[15.6,15.3],[15.2,14.8],[15.8,14.0],[15.4,13.1],[15.0,12.2],[15.6,11.2],[15.3,10.4],
  [16.2,8.8],[16.5,10.6],[16.4,24.7],[16.2,23.5],[16.7,22.8],[16.1,22.1],[16.5,21.4],[16.9,20.7],[16.3,20.0],[16.7,19.3],[16.0,18.6],[16.4,17.9],[16.8,17.2],[16.2,16.5],[16.6,15.8],[16.0,15.1],[16.5,14.4],[16.9,13.6],[16.3,12.8],[16.7,11.9],[16.1,11.0],[16.2,8.1],[16.6,18.5],[16.3,21.0],[16.8,15.0],[16.4,13.2],
  [16.4,23.9],[16.0,23.0],[16.6,22.3],[16.2,21.7],[16.8,21.2],[16.4,20.5],[16.0,19.8],[16.6,19.0],[16.2,18.3],[16.8,17.7],[16.4,17.0],[16.0,16.3],[16.6,15.5],[16.2,14.9],[16.8,14.2],[16.4,12.4],
  [17.0,26.6],[17.2,10.0],[17.9,9.25],[17.6,8.1],[17.5,23.6],[17.1,22.9],[17.7,22.2],[17.3,21.5],[17.9,20.8],[17.4,20.1],[17.0,19.4],[17.6,18.7],[17.2,18.0],[17.8,17.3],[17.4,16.6],[17.0,15.9],[17.6,15.2],[17.3,14.4],[17.9,13.6],[17.5,12.7],[17.1,11.8],[17.7,19.9],[17.3,17.0],[17.8,22.6],[17.2,13.1],
  [17.4,23.2],[17.0,22.5],[17.6,21.9],[17.2,21.1],[17.8,20.3],[17.4,19.7],[17.0,18.9],[17.6,18.3],[17.2,17.6],[17.8,16.8],[17.4,16.2],[17.0,15.3],[17.6,14.7],[17.2,13.8],
  [18.1,24.7],[18.3,17.5],[18.5,12.9],[18.7,11.5],[18.9,10.7],[18.6,22.3],[18.2,21.6],[18.8,20.9],[18.4,20.2],[18.0,19.5],[18.6,18.8],[18.2,18.1],[18.8,16.8],[18.4,16.0],[18.0,15.2],[18.7,14.4],[18.3,13.6],[18.5,19.3],[18.1,23.2],[18.9,15.6],
  [18.4,22.0],[18.0,21.2],[18.6,20.5],[18.2,19.8],[18.8,19.2],[18.4,18.5],[18.0,17.8],[18.6,17.2],[18.2,16.4],[18.8,15.9],[18.4,14.9],
  [19.1,25.5],[19.0,16.0],[19.1,14.8],[19.8,13.3],[19.4,21.7],[19.7,20.6],[19.2,19.8],[19.6,18.9],[19.3,18.0],[19.8,17.1],[19.5,22.8],[19.2,16.9],
  [19.3,21.3],[19.6,20.0],[19.1,19.2],[19.5,18.5],[19.3,17.6],[19.6,16.2],
  [20.6,25.7],[20.3,24.8],[20.6,18.6],[20.2,21.0],[20.5,19.9],[20.8,22.3],[20.4,17.2],
  [21.4,20.0],[21.1,17.5],[21.8,16.2],[22.7,20.5],[21.6,19.0]
];

// 1:1 line
const diagLine = [[-10, -10], [40, 40]];
const axisMin = -10, axisMax = 40, axisStep = 5;

const panels = [
  { tag: '(a)', site: 'SITE: ALIVERI (GREECE)', n: 'DATA NUMBER: 1533', pts: aliveriPts },
  { tag: '(b)', site: 'SITE: VINUESA (SPAIN)', n: 'DATA NUMBER: 1350', pts: vinuesaPts }
];

const font = '"Liberation Sans", Arial, sans-serif';
const grids = [
  { left: 129, top: 45, width: 479, height: 479 },
  { left: 129, top: 681, width: 479, height: 452 }
];

function mkAxis(i, isX) {
  return {
    type: 'value',
    gridIndex: i,
    min: axisMin,
    max: axisMax,
    interval: axisStep,
    name: isX ? 'Measured daily air temperature (ºC)' : 'Estimated daily air temperature (ºC)',
    nameLocation: 'middle',
    nameGap: isX ? 56 : 96,
    nameTextStyle: { color: '#000', fontSize: 21, fontFamily: font },
    axisLine: { show: true, onZero: false, lineStyle: { color: '#000', width: 1.3 } },
    axisTick: { show: true, length: 15, lineStyle: { color: '#000', width: 1.2 } },
    minorTick: { show: true, splitNumber: 5, length: 8, lineStyle: { color: '#000', width: 1 } },
    axisLabel: { color: '#000', fontSize: 18, fontFamily: font, margin: isX ? 33 : 18, showMinLabel: true, showMaxLabel: true },
    splitLine: { show: false }
  };
}

const chart = echarts.init(document.getElementById('chart'), null, { renderer: 'canvas' });

// the inset notes use a condensed face, so squeeze them horizontally
const graphics = [];
panels.forEach((p, i) => {
  const g = grids[i];
  graphics.push({ type: 'text', left: 124, top: g.top - 36, style: { text: p.tag, fontSize: 27, fontFamily: font, fill: '#000' } });
  graphics.push({
    type: 'text', x: 147, y: g.top + 17, scaleX: 0.86,
    style: {
      text: p.site + '\n' + p.n + '\nCLIMEDTEM MODEL\n{r|R}{s|2}{r| = 0.78}',
      fontSize: 16, fontFamily: font, fill: '#000', lineHeight: 20.5,
      rich: {
        r: { fontSize: 16, fontFamily: font, fill: '#000', lineHeight: 20.5 },
        s: { fontSize: 11, fontFamily: font, fill: '#000', verticalAlign: 'top', lineHeight: 14, padding: [0, 1, 0, 1] }
      }
    }
  });
});

chart.setOption({
  backgroundColor: '#fff',
  animation: false,
  grid: grids.map(g => Object.assign({ show: true, borderColor: '#666', borderWidth: 1, backgroundColor: '#fff' }, g)),
  xAxis: [mkAxis(0, true), mkAxis(1, true)],
  yAxis: [mkAxis(0, false), mkAxis(1, false)],
  graphic: graphics,
  series: panels.flatMap((p, i) => [
    {
      type: 'line', xAxisIndex: i, yAxisIndex: i, data: diagLine,
      showSymbol: false, silent: true,
      lineStyle: { color: '#000', width: 1.6 }, z: 1
    },
    {
      type: 'scatter', xAxisIndex: i, yAxisIndex: i, data: p.pts,
      symbol: 'circle', symbolSize: 6, silent: true, large: false,
      itemStyle: { color: '#000', opacity: 1 }, z: 2
    }
  ])
});
</script>
</body>
</html>
